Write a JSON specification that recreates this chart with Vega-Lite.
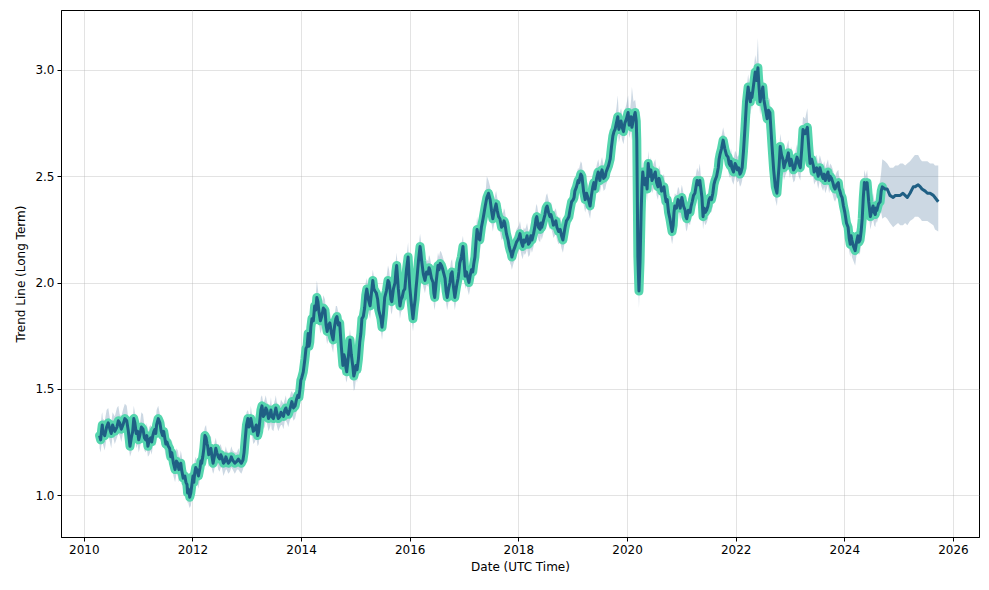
{
  "$schema": "https://vega.github.io/schema/vega-lite/v6.json",
  "width": 918,
  "height": 527,
  "autosize": {"type": "none"},
  "padding": {"left": 61, "top": 10, "right": 10, "bottom": 53},
  "background": "white",
  "config": {
    "view": {"stroke": "black", "strokeWidth": 1},
    "axis": {
      "domainColor": "black", "tickColor": "black", "labelColor": "black", "titleColor": "black",
      "labelFont": "DejaVu Sans", "titleFont": "DejaVu Sans", "labelFontSize": 12, "titleFontSize": 12,
      "titleFontWeight": "normal", "tickSize": 4, "labelPadding": 3,
      "gridColor": "#b0b0b0", "gridOpacity": 0.35, "gridWidth": 1
    }
  },
  "data": {"values": [
    {"t":2010.29,"y":1.28,"hi":1.33,"lo":1.22},
    {"t":2010.31,"y":1.26,"hi":1.33,"lo":1.20},
    {"t":2010.33,"y":1.31,"hi":1.38,"lo":1.25},
    {"t":2010.34,"y":1.33,"hi":1.39,"lo":1.27},
    {"t":2010.35,"y":1.30,"hi":1.36,"lo":1.24},
    {"t":2010.385,"y":1.28,"hi":1.35,"lo":1.21},
    {"t":2010.42,"y":1.32,"hi":1.40,"lo":1.27},
    {"t":2010.45,"y":1.34,"hi":1.41,"lo":1.28},
    {"t":2010.48,"y":1.31,"hi":1.36,"lo":1.25},
    {"t":2010.505,"y":1.29,"hi":1.34,"lo":1.22},
    {"t":2010.53,"y":1.33,"hi":1.39,"lo":1.28},
    {"t":2010.57,"y":1.30,"hi":1.37,"lo":1.24},
    {"t":2010.61,"y":1.32,"hi":1.41,"lo":1.27},
    {"t":2010.635,"y":1.35,"hi":1.42,"lo":1.29},
    {"t":2010.66,"y":1.34,"hi":1.38,"lo":1.28},
    {"t":2010.69,"y":1.31,"hi":1.37,"lo":1.25},
    {"t":2010.72,"y":1.33,"hi":1.40,"lo":1.29},
    {"t":2010.755,"y":1.36,"hi":1.43,"lo":1.30},
    {"t":2010.79,"y":1.35,"hi":1.42,"lo":1.30},
    {"t":2010.82,"y":1.30,"hi":1.36,"lo":1.24},
    {"t":2010.85,"y":1.23,"hi":1.29,"lo":1.18},
    {"t":2010.875,"y":1.27,"hi":1.33,"lo":1.20},
    {"t":2010.90,"y":1.30,"hi":1.36,"lo":1.25},
    {"t":2010.92,"y":1.36,"hi":1.42,"lo":1.30},
    {"t":2010.94,"y":1.34,"hi":1.39,"lo":1.28},
    {"t":2010.965,"y":1.29,"hi":1.36,"lo":1.22},
    {"t":2010.99,"y":1.30,"hi":1.37,"lo":1.24},
    {"t":2011.01,"y":1.26,"hi":1.32,"lo":1.20},
    {"t":2011.03,"y":1.28,"hi":1.33,"lo":1.22},
    {"t":2011.06,"y":1.32,"hi":1.39,"lo":1.26},
    {"t":2011.09,"y":1.31,"hi":1.38,"lo":1.26},
    {"t":2011.115,"y":1.27,"hi":1.33,"lo":1.21},
    {"t":2011.14,"y":1.26,"hi":1.31,"lo":1.20},
    {"t":2011.16,"y":1.28,"hi":1.34,"lo":1.22},
    {"t":2011.18,"y":1.23,"hi":1.29,"lo":1.18},
    {"t":2011.205,"y":1.26,"hi":1.32,"lo":1.19},
    {"t":2011.23,"y":1.27,"hi":1.33,"lo":1.21},
    {"t":2011.25,"y":1.25,"hi":1.31,"lo":1.19},
    {"t":2011.27,"y":1.28,"hi":1.32,"lo":1.23},
    {"t":2011.29,"y":1.30,"hi":1.37,"lo":1.24},
    {"t":2011.31,"y":1.31,"hi":1.37,"lo":1.26},
    {"t":2011.325,"y":1.29,"hi":1.35,"lo":1.23},
    {"t":2011.34,"y":1.33,"hi":1.40,"lo":1.28},
    {"t":2011.37,"y":1.36,"hi":1.42,"lo":1.30},
    {"t":2011.40,"y":1.34,"hi":1.38,"lo":1.29},
    {"t":2011.425,"y":1.30,"hi":1.36,"lo":1.24},
    {"t":2011.45,"y":1.28,"hi":1.33,"lo":1.23},
    {"t":2011.47,"y":1.30,"hi":1.36,"lo":1.24},
    {"t":2011.49,"y":1.27,"hi":1.33,"lo":1.21},
    {"t":2011.51,"y":1.24,"hi":1.30,"lo":1.18},
    {"t":2011.53,"y":1.25,"hi":1.30,"lo":1.19},
    {"t":2011.555,"y":1.23,"hi":1.29,"lo":1.17},
    {"t":2011.58,"y":1.22,"hi":1.26,"lo":1.16},
    {"t":2011.60,"y":1.18,"hi":1.24,"lo":1.12},
    {"t":2011.62,"y":1.20,"hi":1.26,"lo":1.15},
    {"t":2011.65,"y":1.15,"hi":1.21,"lo":1.09},
    {"t":2011.68,"y":1.12,"hi":1.17,"lo":1.06},
    {"t":2011.705,"y":1.16,"hi":1.22,"lo":1.10},
    {"t":2011.73,"y":1.15,"hi":1.21,"lo":1.09},
    {"t":2011.75,"y":1.12,"hi":1.18,"lo":1.06},
    {"t":2011.77,"y":1.13,"hi":1.18,"lo":1.08},
    {"t":2011.785,"y":1.15,"hi":1.21,"lo":1.09},
    {"t":2011.80,"y":1.12,"hi":1.19,"lo":1.07},
    {"t":2011.83,"y":1.08,"hi":1.14,"lo":1.02},
    {"t":2011.86,"y":1.09,"hi":1.14,"lo":1.03},
    {"t":2011.88,"y":1.06,"hi":1.12,"lo":1.00},
    {"t":2011.90,"y":1.05,"hi":1.10,"lo":1.00},
    {"t":2011.91,"y":1.01,"hi":1.07,"lo":0.96},
    {"t":2011.92,"y":1.03,"hi":1.08,"lo":0.97},
    {"t":2011.935,"y":1.02,"hi":1.08,"lo":0.95},
    {"t":2011.95,"y":0.99,"hi":1.04,"lo":0.94},
    {"t":2011.97,"y":1.01,"hi":1.07,"lo":0.95},
    {"t":2011.99,"y":1.05,"hi":1.10,"lo":0.99},
    {"t":2012.00,"y":1.07,"hi":1.13,"lo":1.01},
    {"t":2012.01,"y":1.09,"hi":1.14,"lo":1.04},
    {"t":2012.025,"y":1.06,"hi":1.12,"lo":1.00},
    {"t":2012.04,"y":1.10,"hi":1.16,"lo":1.05},
    {"t":2012.06,"y":1.13,"hi":1.18,"lo":1.07},
    {"t":2012.08,"y":1.12,"hi":1.16,"lo":1.06},
    {"t":2012.11,"y":1.09,"hi":1.15,"lo":1.03},
    {"t":2012.14,"y":1.13,"hi":1.19,"lo":1.08},
    {"t":2012.155,"y":1.16,"hi":1.22,"lo":1.10},
    {"t":2012.17,"y":1.15,"hi":1.20,"lo":1.10},
    {"t":2012.19,"y":1.18,"hi":1.24,"lo":1.12},
    {"t":2012.21,"y":1.22,"hi":1.28,"lo":1.16},
    {"t":2012.22,"y":1.25,"hi":1.31,"lo":1.19},
    {"t":2012.23,"y":1.28,"hi":1.32,"lo":1.22},
    {"t":2012.25,"y":1.27,"hi":1.33,"lo":1.21},
    {"t":2012.27,"y":1.24,"hi":1.29,"lo":1.18},
    {"t":2012.28,"y":1.23,"hi":1.27,"lo":1.17},
    {"t":2012.30,"y":1.19,"hi":1.25,"lo":1.13},
    {"t":2012.32,"y":1.21,"hi":1.27,"lo":1.16},
    {"t":2012.34,"y":1.22,"hi":1.28,"lo":1.16},
    {"t":2012.36,"y":1.18,"hi":1.22,"lo":1.12},
    {"t":2012.38,"y":1.15,"hi":1.20,"lo":1.10},
    {"t":2012.395,"y":1.17,"hi":1.23,"lo":1.11},
    {"t":2012.41,"y":1.19,"hi":1.25,"lo":1.13},
    {"t":2012.43,"y":1.22,"hi":1.27,"lo":1.16},
    {"t":2012.45,"y":1.20,"hi":1.24,"lo":1.15},
    {"t":2012.475,"y":1.18,"hi":1.24,"lo":1.12},
    {"t":2012.50,"y":1.17,"hi":1.23,"lo":1.11},
    {"t":2012.52,"y":1.19,"hi":1.24,"lo":1.13},
    {"t":2012.54,"y":1.18,"hi":1.22,"lo":1.13},
    {"t":2012.57,"y":1.15,"hi":1.20,"lo":1.09},
    {"t":2012.60,"y":1.16,"hi":1.21,"lo":1.11},
    {"t":2012.615,"y":1.18,"hi":1.23,"lo":1.12},
    {"t":2012.63,"y":1.17,"hi":1.21,"lo":1.12},
    {"t":2012.66,"y":1.15,"hi":1.20,"lo":1.10},
    {"t":2012.69,"y":1.16,"hi":1.20,"lo":1.11},
    {"t":2012.715,"y":1.18,"hi":1.23,"lo":1.13},
    {"t":2012.74,"y":1.165,"hi":1.21,"lo":1.12},
    {"t":2012.78,"y":1.15,"hi":1.20,"lo":1.10},
    {"t":2012.82,"y":1.16,"hi":1.20,"lo":1.12},
    {"t":2012.845,"y":1.17,"hi":1.22,"lo":1.12},
    {"t":2012.87,"y":1.16,"hi":1.20,"lo":1.11},
    {"t":2012.90,"y":1.15,"hi":1.20,"lo":1.10},
    {"t":2012.93,"y":1.165,"hi":1.21,"lo":1.12},
    {"t":2012.95,"y":1.20,"hi":1.26,"lo":1.14},
    {"t":2012.97,"y":1.26,"hi":1.31,"lo":1.20},
    {"t":2012.995,"y":1.33,"hi":1.39,"lo":1.27},
    {"t":2013.02,"y":1.36,"hi":1.40,"lo":1.30},
    {"t":2013.04,"y":1.32,"hi":1.38,"lo":1.26},
    {"t":2013.06,"y":1.33,"hi":1.38,"lo":1.28},
    {"t":2013.075,"y":1.36,"hi":1.42,"lo":1.30},
    {"t":2013.09,"y":1.34,"hi":1.39,"lo":1.29},
    {"t":2013.12,"y":1.30,"hi":1.36,"lo":1.24},
    {"t":2013.15,"y":1.31,"hi":1.36,"lo":1.25},
    {"t":2013.175,"y":1.33,"hi":1.39,"lo":1.27},
    {"t":2013.20,"y":1.28,"hi":1.33,"lo":1.23},
    {"t":2013.22,"y":1.30,"hi":1.36,"lo":1.24},
    {"t":2013.24,"y":1.35,"hi":1.41,"lo":1.29},
    {"t":2013.26,"y":1.40,"hi":1.46,"lo":1.34},
    {"t":2013.28,"y":1.42,"hi":1.47,"lo":1.37},
    {"t":2013.305,"y":1.37,"hi":1.43,"lo":1.31},
    {"t":2013.33,"y":1.38,"hi":1.45,"lo":1.32},
    {"t":2013.35,"y":1.41,"hi":1.47,"lo":1.35},
    {"t":2013.37,"y":1.40,"hi":1.44,"lo":1.34},
    {"t":2013.40,"y":1.36,"hi":1.42,"lo":1.30},
    {"t":2013.43,"y":1.38,"hi":1.43,"lo":1.32},
    {"t":2013.445,"y":1.40,"hi":1.46,"lo":1.34},
    {"t":2013.46,"y":1.37,"hi":1.42,"lo":1.31},
    {"t":2013.49,"y":1.36,"hi":1.42,"lo":1.30},
    {"t":2013.52,"y":1.39,"hi":1.45,"lo":1.34},
    {"t":2013.535,"y":1.41,"hi":1.47,"lo":1.35},
    {"t":2013.55,"y":1.39,"hi":1.44,"lo":1.33},
    {"t":2013.58,"y":1.36,"hi":1.42,"lo":1.30},
    {"t":2013.61,"y":1.37,"hi":1.42,"lo":1.32},
    {"t":2013.63,"y":1.39,"hi":1.45,"lo":1.33},
    {"t":2013.65,"y":1.38,"hi":1.44,"lo":1.33},
    {"t":2013.675,"y":1.37,"hi":1.43,"lo":1.31},
    {"t":2013.70,"y":1.40,"hi":1.45,"lo":1.35},
    {"t":2013.72,"y":1.41,"hi":1.47,"lo":1.35},
    {"t":2013.74,"y":1.39,"hi":1.43,"lo":1.34},
    {"t":2013.765,"y":1.38,"hi":1.44,"lo":1.32},
    {"t":2013.79,"y":1.40,"hi":1.46,"lo":1.35},
    {"t":2013.81,"y":1.42,"hi":1.48,"lo":1.36},
    {"t":2013.83,"y":1.44,"hi":1.49,"lo":1.38},
    {"t":2013.86,"y":1.41,"hi":1.47,"lo":1.35},
    {"t":2013.89,"y":1.42,"hi":1.47,"lo":1.36},
    {"t":2013.915,"y":1.45,"hi":1.51,"lo":1.39},
    {"t":2013.94,"y":1.47,"hi":1.52,"lo":1.41},
    {"t":2013.96,"y":1.46,"hi":1.52,"lo":1.40},
    {"t":2013.98,"y":1.50,"hi":1.55,"lo":1.45},
    {"t":2013.995,"y":1.54,"hi":1.60,"lo":1.48},
    {"t":2014.01,"y":1.55,"hi":1.60,"lo":1.49},
    {"t":2014.04,"y":1.58,"hi":1.64,"lo":1.52},
    {"t":2014.07,"y":1.64,"hi":1.70,"lo":1.58},
    {"t":2014.09,"y":1.69,"hi":1.75,"lo":1.63},
    {"t":2014.11,"y":1.70,"hi":1.76,"lo":1.64},
    {"t":2014.13,"y":1.76,"hi":1.80,"lo":1.70},
    {"t":2014.145,"y":1.70,"hi":1.76,"lo":1.64},
    {"t":2014.16,"y":1.72,"hi":1.78,"lo":1.67},
    {"t":2014.18,"y":1.79,"hi":1.85,"lo":1.73},
    {"t":2014.20,"y":1.83,"hi":1.88,"lo":1.77},
    {"t":2014.225,"y":1.82,"hi":1.88,"lo":1.76},
    {"t":2014.25,"y":1.89,"hi":1.94,"lo":1.83},
    {"t":2014.27,"y":1.87,"hi":1.94,"lo":1.81},
    {"t":2014.29,"y":1.93,"hi":2.01,"lo":1.87},
    {"t":2014.31,"y":1.91,"hi":1.97,"lo":1.85},
    {"t":2014.33,"y":1.86,"hi":1.92,"lo":1.80},
    {"t":2014.355,"y":1.82,"hi":1.88,"lo":1.76},
    {"t":2014.38,"y":1.84,"hi":1.89,"lo":1.78},
    {"t":2014.41,"y":1.88,"hi":1.94,"lo":1.82},
    {"t":2014.44,"y":1.87,"hi":1.92,"lo":1.81},
    {"t":2014.46,"y":1.80,"hi":1.86,"lo":1.74},
    {"t":2014.48,"y":1.77,"hi":1.83,"lo":1.71},
    {"t":2014.505,"y":1.80,"hi":1.86,"lo":1.74},
    {"t":2014.53,"y":1.81,"hi":1.86,"lo":1.75},
    {"t":2014.56,"y":1.76,"hi":1.82,"lo":1.70},
    {"t":2014.59,"y":1.73,"hi":1.79,"lo":1.67},
    {"t":2014.605,"y":1.77,"hi":1.83,"lo":1.71},
    {"t":2014.62,"y":1.80,"hi":1.85,"lo":1.74},
    {"t":2014.64,"y":1.83,"hi":1.89,"lo":1.77},
    {"t":2014.66,"y":1.84,"hi":1.89,"lo":1.79},
    {"t":2014.685,"y":1.80,"hi":1.86,"lo":1.74},
    {"t":2014.71,"y":1.81,"hi":1.86,"lo":1.75},
    {"t":2014.74,"y":1.70,"hi":1.76,"lo":1.64},
    {"t":2014.77,"y":1.61,"hi":1.67,"lo":1.56},
    {"t":2014.79,"y":1.66,"hi":1.72,"lo":1.60},
    {"t":2014.81,"y":1.64,"hi":1.70,"lo":1.58},
    {"t":2014.825,"y":1.60,"hi":1.66,"lo":1.54},
    {"t":2014.84,"y":1.58,"hi":1.64,"lo":1.53},
    {"t":2014.87,"y":1.65,"hi":1.71,"lo":1.59},
    {"t":2014.90,"y":1.73,"hi":1.78,"lo":1.67},
    {"t":2014.925,"y":1.66,"hi":1.72,"lo":1.60},
    {"t":2014.95,"y":1.61,"hi":1.67,"lo":1.55},
    {"t":2014.97,"y":1.56,"hi":1.62,"lo":1.49},
    {"t":2014.99,"y":1.58,"hi":1.63,"lo":1.50},
    {"t":2015.01,"y":1.61,"hi":1.67,"lo":1.55},
    {"t":2015.03,"y":1.59,"hi":1.65,"lo":1.53},
    {"t":2015.055,"y":1.64,"hi":1.70,"lo":1.58},
    {"t":2015.08,"y":1.72,"hi":1.78,"lo":1.66},
    {"t":2015.10,"y":1.76,"hi":1.82,"lo":1.70},
    {"t":2015.12,"y":1.83,"hi":1.88,"lo":1.77},
    {"t":2015.145,"y":1.84,"hi":1.90,"lo":1.78},
    {"t":2015.17,"y":1.88,"hi":1.95,"lo":1.82},
    {"t":2015.19,"y":1.94,"hi":2.00,"lo":1.88},
    {"t":2015.21,"y":1.97,"hi":2.02,"lo":1.91},
    {"t":2015.24,"y":1.92,"hi":1.98,"lo":1.86},
    {"t":2015.27,"y":1.89,"hi":1.95,"lo":1.83},
    {"t":2015.295,"y":1.95,"hi":2.01,"lo":1.89},
    {"t":2015.32,"y":2.01,"hi":2.06,"lo":1.95},
    {"t":2015.34,"y":1.97,"hi":2.03,"lo":1.91},
    {"t":2015.36,"y":1.96,"hi":2.02,"lo":1.90},
    {"t":2015.385,"y":1.95,"hi":2.01,"lo":1.89},
    {"t":2015.41,"y":1.92,"hi":1.98,"lo":1.86},
    {"t":2015.43,"y":1.87,"hi":1.93,"lo":1.81},
    {"t":2015.45,"y":1.85,"hi":1.91,"lo":1.79},
    {"t":2015.47,"y":1.83,"hi":1.89,"lo":1.77},
    {"t":2015.49,"y":1.79,"hi":1.85,"lo":1.73},
    {"t":2015.515,"y":1.85,"hi":1.91,"lo":1.79},
    {"t":2015.54,"y":1.93,"hi":1.99,"lo":1.87},
    {"t":2015.57,"y":1.96,"hi":2.02,"lo":1.90},
    {"t":2015.60,"y":2.01,"hi":2.08,"lo":1.95},
    {"t":2015.62,"y":2.00,"hi":2.06,"lo":1.94},
    {"t":2015.64,"y":1.96,"hi":2.01,"lo":1.90},
    {"t":2015.655,"y":1.92,"hi":1.98,"lo":1.86},
    {"t":2015.67,"y":1.91,"hi":1.97,"lo":1.85},
    {"t":2015.70,"y":1.97,"hi":2.03,"lo":1.91},
    {"t":2015.73,"y":2.00,"hi":2.06,"lo":1.94},
    {"t":2015.745,"y":2.05,"hi":2.11,"lo":1.99},
    {"t":2015.76,"y":2.08,"hi":2.14,"lo":2.02},
    {"t":2015.79,"y":1.97,"hi":2.03,"lo":1.91},
    {"t":2015.82,"y":1.89,"hi":1.95,"lo":1.83},
    {"t":2015.84,"y":1.92,"hi":1.98,"lo":1.86},
    {"t":2015.86,"y":1.93,"hi":1.99,"lo":1.87},
    {"t":2015.885,"y":1.96,"hi":2.02,"lo":1.90},
    {"t":2015.91,"y":1.97,"hi":2.03,"lo":1.91},
    {"t":2015.94,"y":2.06,"hi":2.12,"lo":2.00},
    {"t":2015.97,"y":2.12,"hi":2.19,"lo":2.06},
    {"t":2015.985,"y":2.05,"hi":2.11,"lo":1.99},
    {"t":2016.00,"y":1.98,"hi":2.04,"lo":1.92},
    {"t":2016.03,"y":1.90,"hi":1.96,"lo":1.84},
    {"t":2016.06,"y":1.83,"hi":1.89,"lo":1.77},
    {"t":2016.08,"y":1.88,"hi":1.94,"lo":1.82},
    {"t":2016.10,"y":1.92,"hi":1.98,"lo":1.86},
    {"t":2016.115,"y":1.97,"hi":2.03,"lo":1.91},
    {"t":2016.13,"y":2.01,"hi":2.07,"lo":1.95},
    {"t":2016.16,"y":2.10,"hi":2.16,"lo":2.04},
    {"t":2016.19,"y":2.17,"hi":2.23,"lo":2.11},
    {"t":2016.205,"y":2.14,"hi":2.20,"lo":2.08},
    {"t":2016.22,"y":2.10,"hi":2.16,"lo":2.04},
    {"t":2016.25,"y":2.04,"hi":2.10,"lo":1.98},
    {"t":2016.28,"y":2.01,"hi":2.07,"lo":1.95},
    {"t":2016.31,"y":2.05,"hi":2.11,"lo":1.99},
    {"t":2016.34,"y":2.04,"hi":2.10,"lo":1.98},
    {"t":2016.355,"y":2.07,"hi":2.13,"lo":2.01},
    {"t":2016.37,"y":2.06,"hi":2.12,"lo":2.00},
    {"t":2016.40,"y":2.02,"hi":2.08,"lo":1.96},
    {"t":2016.43,"y":2.00,"hi":2.06,"lo":1.94},
    {"t":2016.445,"y":1.95,"hi":2.01,"lo":1.89},
    {"t":2016.46,"y":1.93,"hi":1.99,"lo":1.87},
    {"t":2016.49,"y":2.01,"hi":2.07,"lo":1.95},
    {"t":2016.52,"y":2.08,"hi":2.14,"lo":2.02},
    {"t":2016.54,"y":2.06,"hi":2.12,"lo":2.00},
    {"t":2016.56,"y":2.09,"hi":2.15,"lo":2.03},
    {"t":2016.585,"y":2.08,"hi":2.14,"lo":2.02},
    {"t":2016.61,"y":2.06,"hi":2.12,"lo":2.00},
    {"t":2016.63,"y":2.04,"hi":2.10,"lo":1.98},
    {"t":2016.65,"y":2.02,"hi":2.08,"lo":1.96},
    {"t":2016.67,"y":1.96,"hi":2.02,"lo":1.90},
    {"t":2016.69,"y":1.93,"hi":1.99,"lo":1.87},
    {"t":2016.715,"y":1.97,"hi":2.03,"lo":1.91},
    {"t":2016.74,"y":2.00,"hi":2.06,"lo":1.94},
    {"t":2016.76,"y":2.04,"hi":2.10,"lo":1.98},
    {"t":2016.78,"y":2.05,"hi":2.11,"lo":1.99},
    {"t":2016.805,"y":1.98,"hi":2.04,"lo":1.92},
    {"t":2016.83,"y":1.93,"hi":1.99,"lo":1.87},
    {"t":2016.86,"y":1.98,"hi":2.04,"lo":1.92},
    {"t":2016.89,"y":2.02,"hi":2.08,"lo":1.96},
    {"t":2016.905,"y":2.05,"hi":2.11,"lo":1.99},
    {"t":2016.92,"y":2.09,"hi":2.15,"lo":2.03},
    {"t":2016.95,"y":2.12,"hi":2.18,"lo":2.06},
    {"t":2016.98,"y":2.17,"hi":2.22,"lo":2.11},
    {"t":2017.00,"y":2.10,"hi":2.16,"lo":2.04},
    {"t":2017.02,"y":2.03,"hi":2.09,"lo":1.97},
    {"t":2017.045,"y":2.05,"hi":2.11,"lo":1.99},
    {"t":2017.07,"y":2.02,"hi":2.08,"lo":1.96},
    {"t":2017.09,"y":2.00,"hi":2.06,"lo":1.94},
    {"t":2017.11,"y":2.03,"hi":2.09,"lo":1.97},
    {"t":2017.135,"y":2.06,"hi":2.12,"lo":2.00},
    {"t":2017.16,"y":2.05,"hi":2.12,"lo":1.99},
    {"t":2017.18,"y":2.09,"hi":2.15,"lo":2.03},
    {"t":2017.20,"y":2.12,"hi":2.18,"lo":2.06},
    {"t":2017.22,"y":2.19,"hi":2.25,"lo":2.13},
    {"t":2017.24,"y":2.25,"hi":2.31,"lo":2.19},
    {"t":2017.265,"y":2.21,"hi":2.27,"lo":2.15},
    {"t":2017.29,"y":2.20,"hi":2.26,"lo":2.14},
    {"t":2017.32,"y":2.26,"hi":2.32,"lo":2.20},
    {"t":2017.35,"y":2.30,"hi":2.36,"lo":2.24},
    {"t":2017.37,"y":2.33,"hi":2.39,"lo":2.27},
    {"t":2017.39,"y":2.36,"hi":2.42,"lo":2.30},
    {"t":2017.405,"y":2.38,"hi":2.45,"lo":2.32},
    {"t":2017.42,"y":2.40,"hi":2.50,"lo":2.34},
    {"t":2017.45,"y":2.42,"hi":2.48,"lo":2.36},
    {"t":2017.48,"y":2.39,"hi":2.45,"lo":2.33},
    {"t":2017.505,"y":2.34,"hi":2.40,"lo":2.28},
    {"t":2017.53,"y":2.30,"hi":2.36,"lo":2.24},
    {"t":2017.55,"y":2.33,"hi":2.39,"lo":2.27},
    {"t":2017.57,"y":2.35,"hi":2.41,"lo":2.29},
    {"t":2017.59,"y":2.37,"hi":2.43,"lo":2.31},
    {"t":2017.61,"y":2.34,"hi":2.40,"lo":2.28},
    {"t":2017.635,"y":2.31,"hi":2.37,"lo":2.25},
    {"t":2017.66,"y":2.30,"hi":2.36,"lo":2.24},
    {"t":2017.69,"y":2.26,"hi":2.32,"lo":2.20},
    {"t":2017.72,"y":2.27,"hi":2.33,"lo":2.21},
    {"t":2017.735,"y":2.29,"hi":2.35,"lo":2.23},
    {"t":2017.75,"y":2.28,"hi":2.34,"lo":2.22},
    {"t":2017.78,"y":2.23,"hi":2.29,"lo":2.17},
    {"t":2017.81,"y":2.20,"hi":2.26,"lo":2.14},
    {"t":2017.83,"y":2.17,"hi":2.23,"lo":2.11},
    {"t":2017.85,"y":2.15,"hi":2.21,"lo":2.09},
    {"t":2017.865,"y":2.14,"hi":2.20,"lo":2.08},
    {"t":2017.88,"y":2.12,"hi":2.18,"lo":2.06},
    {"t":2017.91,"y":2.15,"hi":2.21,"lo":2.09},
    {"t":2017.94,"y":2.17,"hi":2.23,"lo":2.11},
    {"t":2017.965,"y":2.19,"hi":2.25,"lo":2.13},
    {"t":2017.99,"y":2.20,"hi":2.26,"lo":2.14},
    {"t":2018.01,"y":2.21,"hi":2.27,"lo":2.15},
    {"t":2018.03,"y":2.23,"hi":2.29,"lo":2.17},
    {"t":2018.055,"y":2.19,"hi":2.25,"lo":2.13},
    {"t":2018.08,"y":2.17,"hi":2.23,"lo":2.11},
    {"t":2018.10,"y":2.20,"hi":2.26,"lo":2.14},
    {"t":2018.12,"y":2.19,"hi":2.25,"lo":2.13},
    {"t":2018.14,"y":2.20,"hi":2.26,"lo":2.14},
    {"t":2018.16,"y":2.22,"hi":2.28,"lo":2.16},
    {"t":2018.185,"y":2.18,"hi":2.24,"lo":2.12},
    {"t":2018.21,"y":2.19,"hi":2.25,"lo":2.13},
    {"t":2018.23,"y":2.22,"hi":2.28,"lo":2.16},
    {"t":2018.25,"y":2.20,"hi":2.26,"lo":2.14},
    {"t":2018.28,"y":2.23,"hi":2.29,"lo":2.17},
    {"t":2018.31,"y":2.27,"hi":2.33,"lo":2.21},
    {"t":2018.325,"y":2.30,"hi":2.36,"lo":2.24},
    {"t":2018.34,"y":2.31,"hi":2.37,"lo":2.25},
    {"t":2018.37,"y":2.26,"hi":2.32,"lo":2.20},
    {"t":2018.40,"y":2.25,"hi":2.31,"lo":2.19},
    {"t":2018.415,"y":2.28,"hi":2.34,"lo":2.22},
    {"t":2018.43,"y":2.26,"hi":2.32,"lo":2.20},
    {"t":2018.46,"y":2.29,"hi":2.35,"lo":2.23},
    {"t":2018.49,"y":2.32,"hi":2.38,"lo":2.26},
    {"t":2018.51,"y":2.35,"hi":2.41,"lo":2.29},
    {"t":2018.53,"y":2.36,"hi":2.42,"lo":2.30},
    {"t":2018.555,"y":2.33,"hi":2.39,"lo":2.27},
    {"t":2018.58,"y":2.31,"hi":2.37,"lo":2.25},
    {"t":2018.60,"y":2.32,"hi":2.38,"lo":2.26},
    {"t":2018.62,"y":2.30,"hi":2.36,"lo":2.24},
    {"t":2018.645,"y":2.27,"hi":2.33,"lo":2.21},
    {"t":2018.67,"y":2.28,"hi":2.34,"lo":2.22},
    {"t":2018.69,"y":2.29,"hi":2.35,"lo":2.23},
    {"t":2018.71,"y":2.26,"hi":2.32,"lo":2.20},
    {"t":2018.74,"y":2.24,"hi":2.30,"lo":2.18},
    {"t":2018.77,"y":2.25,"hi":2.31,"lo":2.19},
    {"t":2018.795,"y":2.22,"hi":2.28,"lo":2.16},
    {"t":2018.82,"y":2.20,"hi":2.26,"lo":2.14},
    {"t":2018.84,"y":2.23,"hi":2.29,"lo":2.17},
    {"t":2018.86,"y":2.26,"hi":2.32,"lo":2.20},
    {"t":2018.885,"y":2.29,"hi":2.35,"lo":2.23},
    {"t":2018.91,"y":2.30,"hi":2.36,"lo":2.24},
    {"t":2018.93,"y":2.31,"hi":2.37,"lo":2.25},
    {"t":2018.95,"y":2.34,"hi":2.40,"lo":2.28},
    {"t":2018.98,"y":2.38,"hi":2.44,"lo":2.32},
    {"t":2019.01,"y":2.39,"hi":2.45,"lo":2.33},
    {"t":2019.025,"y":2.40,"hi":2.46,"lo":2.34},
    {"t":2019.04,"y":2.43,"hi":2.49,"lo":2.37},
    {"t":2019.07,"y":2.45,"hi":2.51,"lo":2.39},
    {"t":2019.10,"y":2.48,"hi":2.54,"lo":2.42},
    {"t":2019.115,"y":2.47,"hi":2.53,"lo":2.41},
    {"t":2019.13,"y":2.49,"hi":2.55,"lo":2.43},
    {"t":2019.15,"y":2.51,"hi":2.57,"lo":2.45},
    {"t":2019.17,"y":2.50,"hi":2.56,"lo":2.44},
    {"t":2019.20,"y":2.43,"hi":2.49,"lo":2.37},
    {"t":2019.23,"y":2.39,"hi":2.45,"lo":2.33},
    {"t":2019.255,"y":2.42,"hi":2.48,"lo":2.36},
    {"t":2019.28,"y":2.40,"hi":2.46,"lo":2.34},
    {"t":2019.30,"y":2.38,"hi":2.44,"lo":2.32},
    {"t":2019.32,"y":2.36,"hi":2.42,"lo":2.30},
    {"t":2019.345,"y":2.41,"hi":2.47,"lo":2.35},
    {"t":2019.37,"y":2.45,"hi":2.51,"lo":2.39},
    {"t":2019.39,"y":2.47,"hi":2.53,"lo":2.41},
    {"t":2019.41,"y":2.44,"hi":2.50,"lo":2.38},
    {"t":2019.44,"y":2.49,"hi":2.55,"lo":2.43},
    {"t":2019.47,"y":2.52,"hi":2.58,"lo":2.46},
    {"t":2019.485,"y":2.50,"hi":2.56,"lo":2.44},
    {"t":2019.50,"y":2.48,"hi":2.54,"lo":2.42},
    {"t":2019.52,"y":2.51,"hi":2.57,"lo":2.45},
    {"t":2019.54,"y":2.53,"hi":2.59,"lo":2.47},
    {"t":2019.57,"y":2.49,"hi":2.55,"lo":2.43},
    {"t":2019.60,"y":2.50,"hi":2.56,"lo":2.44},
    {"t":2019.615,"y":2.52,"hi":2.58,"lo":2.46},
    {"t":2019.63,"y":2.53,"hi":2.59,"lo":2.47},
    {"t":2019.66,"y":2.55,"hi":2.61,"lo":2.49},
    {"t":2019.69,"y":2.58,"hi":2.64,"lo":2.52},
    {"t":2019.715,"y":2.64,"hi":2.70,"lo":2.58},
    {"t":2019.74,"y":2.69,"hi":2.75,"lo":2.63},
    {"t":2019.76,"y":2.71,"hi":2.77,"lo":2.65},
    {"t":2019.78,"y":2.72,"hi":2.78,"lo":2.66},
    {"t":2019.805,"y":2.75,"hi":2.82,"lo":2.69},
    {"t":2019.83,"y":2.78,"hi":2.88,"lo":2.72},
    {"t":2019.85,"y":2.72,"hi":2.78,"lo":2.66},
    {"t":2019.87,"y":2.74,"hi":2.80,"lo":2.68},
    {"t":2019.89,"y":2.76,"hi":2.82,"lo":2.70},
    {"t":2019.91,"y":2.73,"hi":2.79,"lo":2.67},
    {"t":2019.935,"y":2.71,"hi":2.77,"lo":2.65},
    {"t":2019.96,"y":2.75,"hi":2.81,"lo":2.69},
    {"t":2019.99,"y":2.77,"hi":2.84,"lo":2.71},
    {"t":2020.02,"y":2.80,"hi":2.88,"lo":2.74},
    {"t":2020.04,"y":2.74,"hi":2.80,"lo":2.68},
    {"t":2020.06,"y":2.76,"hi":2.82,"lo":2.70},
    {"t":2020.075,"y":2.78,"hi":2.86,"lo":2.72},
    {"t":2020.09,"y":2.73,"hi":2.92,"lo":2.67},
    {"t":2020.12,"y":2.77,"hi":2.85,"lo":2.71},
    {"t":2020.15,"y":2.80,"hi":2.86,"lo":2.74},
    {"t":2020.17,"y":2.76,"hi":2.82,"lo":2.70},
    {"t":2020.18,"y":2.67,"hi":2.73,"lo":2.61},
    {"t":2020.20,"y":2.12,"hi":2.20,"lo":2.06},
    {"t":2020.22,"y":1.96,"hi":2.02,"lo":1.88},
    {"t":2020.24,"y":2.10,"hi":2.16,"lo":2.04},
    {"t":2020.26,"y":2.33,"hi":2.39,"lo":2.27},
    {"t":2020.275,"y":2.45,"hi":2.51,"lo":2.39},
    {"t":2020.29,"y":2.52,"hi":2.58,"lo":2.46},
    {"t":2020.31,"y":2.47,"hi":2.53,"lo":2.41},
    {"t":2020.33,"y":2.46,"hi":2.52,"lo":2.40},
    {"t":2020.35,"y":2.49,"hi":2.55,"lo":2.43},
    {"t":2020.37,"y":2.44,"hi":2.50,"lo":2.38},
    {"t":2020.39,"y":2.56,"hi":2.62,"lo":2.50},
    {"t":2020.405,"y":2.52,"hi":2.58,"lo":2.46},
    {"t":2020.42,"y":2.50,"hi":2.56,"lo":2.44},
    {"t":2020.44,"y":2.53,"hi":2.59,"lo":2.47},
    {"t":2020.46,"y":2.48,"hi":2.54,"lo":2.42},
    {"t":2020.49,"y":2.50,"hi":2.56,"lo":2.44},
    {"t":2020.52,"y":2.52,"hi":2.58,"lo":2.46},
    {"t":2020.545,"y":2.47,"hi":2.53,"lo":2.41},
    {"t":2020.57,"y":2.45,"hi":2.51,"lo":2.39},
    {"t":2020.59,"y":2.49,"hi":2.55,"lo":2.43},
    {"t":2020.61,"y":2.47,"hi":2.53,"lo":2.41},
    {"t":2020.635,"y":2.43,"hi":2.49,"lo":2.37},
    {"t":2020.66,"y":2.44,"hi":2.50,"lo":2.38},
    {"t":2020.68,"y":2.45,"hi":2.51,"lo":2.39},
    {"t":2020.70,"y":2.41,"hi":2.47,"lo":2.35},
    {"t":2020.72,"y":2.38,"hi":2.44,"lo":2.32},
    {"t":2020.74,"y":2.39,"hi":2.45,"lo":2.33},
    {"t":2020.765,"y":2.33,"hi":2.39,"lo":2.27},
    {"t":2020.79,"y":2.30,"hi":2.36,"lo":2.24},
    {"t":2020.81,"y":2.27,"hi":2.33,"lo":2.21},
    {"t":2020.83,"y":2.24,"hi":2.30,"lo":2.18},
    {"t":2020.85,"y":2.27,"hi":2.33,"lo":2.21},
    {"t":2020.865,"y":2.33,"hi":2.39,"lo":2.27},
    {"t":2020.88,"y":2.36,"hi":2.42,"lo":2.30},
    {"t":2020.91,"y":2.35,"hi":2.41,"lo":2.29},
    {"t":2020.94,"y":2.39,"hi":2.45,"lo":2.33},
    {"t":2020.96,"y":2.38,"hi":2.44,"lo":2.32},
    {"t":2020.98,"y":2.35,"hi":2.41,"lo":2.29},
    {"t":2020.995,"y":2.38,"hi":2.44,"lo":2.32},
    {"t":2021.01,"y":2.40,"hi":2.46,"lo":2.34},
    {"t":2021.04,"y":2.36,"hi":2.42,"lo":2.30},
    {"t":2021.07,"y":2.34,"hi":2.40,"lo":2.28},
    {"t":2021.085,"y":2.31,"hi":2.37,"lo":2.25},
    {"t":2021.10,"y":2.30,"hi":2.36,"lo":2.24},
    {"t":2021.13,"y":2.34,"hi":2.40,"lo":2.28},
    {"t":2021.16,"y":2.33,"hi":2.39,"lo":2.27},
    {"t":2021.18,"y":2.36,"hi":2.42,"lo":2.30},
    {"t":2021.20,"y":2.38,"hi":2.44,"lo":2.32},
    {"t":2021.225,"y":2.41,"hi":2.47,"lo":2.35},
    {"t":2021.25,"y":2.42,"hi":2.48,"lo":2.36},
    {"t":2021.27,"y":2.45,"hi":2.51,"lo":2.39},
    {"t":2021.29,"y":2.48,"hi":2.54,"lo":2.42},
    {"t":2021.315,"y":2.46,"hi":2.52,"lo":2.40},
    {"t":2021.34,"y":2.48,"hi":2.56,"lo":2.42},
    {"t":2021.36,"y":2.44,"hi":2.50,"lo":2.38},
    {"t":2021.38,"y":2.40,"hi":2.46,"lo":2.34},
    {"t":2021.40,"y":2.31,"hi":2.37,"lo":2.25},
    {"t":2021.42,"y":2.35,"hi":2.41,"lo":2.29},
    {"t":2021.44,"y":2.33,"hi":2.39,"lo":2.27},
    {"t":2021.465,"y":2.34,"hi":2.40,"lo":2.28},
    {"t":2021.49,"y":2.36,"hi":2.42,"lo":2.30},
    {"t":2021.51,"y":2.39,"hi":2.45,"lo":2.33},
    {"t":2021.53,"y":2.40,"hi":2.46,"lo":2.34},
    {"t":2021.555,"y":2.39,"hi":2.45,"lo":2.33},
    {"t":2021.58,"y":2.42,"hi":2.48,"lo":2.36},
    {"t":2021.60,"y":2.46,"hi":2.52,"lo":2.40},
    {"t":2021.62,"y":2.48,"hi":2.54,"lo":2.42},
    {"t":2021.65,"y":2.50,"hi":2.56,"lo":2.44},
    {"t":2021.68,"y":2.54,"hi":2.60,"lo":2.48},
    {"t":2021.695,"y":2.58,"hi":2.64,"lo":2.52},
    {"t":2021.71,"y":2.60,"hi":2.66,"lo":2.54},
    {"t":2021.74,"y":2.63,"hi":2.69,"lo":2.57},
    {"t":2021.77,"y":2.67,"hi":2.73,"lo":2.61},
    {"t":2021.785,"y":2.65,"hi":2.71,"lo":2.59},
    {"t":2021.80,"y":2.63,"hi":2.69,"lo":2.57},
    {"t":2021.83,"y":2.60,"hi":2.66,"lo":2.54},
    {"t":2021.86,"y":2.59,"hi":2.65,"lo":2.53},
    {"t":2021.88,"y":2.56,"hi":2.62,"lo":2.50},
    {"t":2021.90,"y":2.55,"hi":2.61,"lo":2.49},
    {"t":2021.915,"y":2.57,"hi":2.63,"lo":2.51},
    {"t":2021.93,"y":2.54,"hi":2.60,"lo":2.48},
    {"t":2021.96,"y":2.52,"hi":2.58,"lo":2.46},
    {"t":2021.99,"y":2.56,"hi":2.62,"lo":2.50},
    {"t":2022.01,"y":2.55,"hi":2.61,"lo":2.49},
    {"t":2022.03,"y":2.53,"hi":2.59,"lo":2.47},
    {"t":2022.055,"y":2.54,"hi":2.60,"lo":2.48},
    {"t":2022.08,"y":2.51,"hi":2.57,"lo":2.45},
    {"t":2022.10,"y":2.52,"hi":2.58,"lo":2.46},
    {"t":2022.12,"y":2.54,"hi":2.60,"lo":2.48},
    {"t":2022.145,"y":2.62,"hi":2.68,"lo":2.56},
    {"t":2022.17,"y":2.72,"hi":2.78,"lo":2.66},
    {"t":2022.20,"y":2.85,"hi":2.91,"lo":2.79},
    {"t":2022.23,"y":2.92,"hi":2.98,"lo":2.86},
    {"t":2022.25,"y":2.88,"hi":2.94,"lo":2.82},
    {"t":2022.27,"y":2.85,"hi":2.91,"lo":2.79},
    {"t":2022.285,"y":2.89,"hi":2.95,"lo":2.83},
    {"t":2022.30,"y":2.87,"hi":2.93,"lo":2.81},
    {"t":2022.33,"y":2.93,"hi":3.00,"lo":2.87},
    {"t":2022.36,"y":2.99,"hi":3.07,"lo":2.93},
    {"t":2022.385,"y":2.95,"hi":3.03,"lo":2.89},
    {"t":2022.41,"y":3.01,"hi":3.15,"lo":2.95},
    {"t":2022.43,"y":2.92,"hi":2.99,"lo":2.86},
    {"t":2022.45,"y":2.85,"hi":2.91,"lo":2.79},
    {"t":2022.475,"y":2.89,"hi":2.95,"lo":2.83},
    {"t":2022.50,"y":2.92,"hi":2.98,"lo":2.86},
    {"t":2022.52,"y":2.86,"hi":2.92,"lo":2.80},
    {"t":2022.54,"y":2.83,"hi":2.89,"lo":2.77},
    {"t":2022.56,"y":2.80,"hi":2.86,"lo":2.74},
    {"t":2022.58,"y":2.77,"hi":2.83,"lo":2.71},
    {"t":2022.605,"y":2.81,"hi":2.87,"lo":2.75},
    {"t":2022.63,"y":2.80,"hi":2.86,"lo":2.74},
    {"t":2022.65,"y":2.72,"hi":2.78,"lo":2.66},
    {"t":2022.67,"y":2.64,"hi":2.70,"lo":2.58},
    {"t":2022.70,"y":2.53,"hi":2.59,"lo":2.47},
    {"t":2022.73,"y":2.45,"hi":2.51,"lo":2.39},
    {"t":2022.76,"y":2.42,"hi":2.48,"lo":2.36},
    {"t":2022.80,"y":2.55,"hi":2.61,"lo":2.49},
    {"t":2022.82,"y":2.64,"hi":2.70,"lo":2.58},
    {"t":2022.845,"y":2.60,"hi":2.66,"lo":2.54},
    {"t":2022.87,"y":2.58,"hi":2.64,"lo":2.52},
    {"t":2022.89,"y":2.54,"hi":2.60,"lo":2.48},
    {"t":2022.91,"y":2.56,"hi":2.62,"lo":2.50},
    {"t":2022.94,"y":2.58,"hi":2.64,"lo":2.52},
    {"t":2022.97,"y":2.61,"hi":2.67,"lo":2.55},
    {"t":2022.985,"y":2.57,"hi":2.63,"lo":2.51},
    {"t":2023.00,"y":2.55,"hi":2.61,"lo":2.49},
    {"t":2023.02,"y":2.58,"hi":2.64,"lo":2.52},
    {"t":2023.04,"y":2.56,"hi":2.62,"lo":2.50},
    {"t":2023.065,"y":2.53,"hi":2.59,"lo":2.47},
    {"t":2023.09,"y":2.54,"hi":2.60,"lo":2.48},
    {"t":2023.11,"y":2.57,"hi":2.63,"lo":2.51},
    {"t":2023.13,"y":2.59,"hi":2.65,"lo":2.53},
    {"t":2023.16,"y":2.56,"hi":2.62,"lo":2.50},
    {"t":2023.19,"y":2.54,"hi":2.60,"lo":2.48},
    {"t":2023.215,"y":2.62,"hi":2.68,"lo":2.56},
    {"t":2023.24,"y":2.72,"hi":2.78,"lo":2.66},
    {"t":2023.28,"y":2.70,"hi":2.77,"lo":2.64},
    {"t":2023.32,"y":2.73,"hi":2.82,"lo":2.67},
    {"t":2023.345,"y":2.64,"hi":2.70,"lo":2.58},
    {"t":2023.37,"y":2.56,"hi":2.62,"lo":2.50},
    {"t":2023.40,"y":2.58,"hi":2.64,"lo":2.52},
    {"t":2023.43,"y":2.55,"hi":2.61,"lo":2.49},
    {"t":2023.445,"y":2.52,"hi":2.58,"lo":2.46},
    {"t":2023.46,"y":2.53,"hi":2.59,"lo":2.47},
    {"t":2023.49,"y":2.54,"hi":2.60,"lo":2.48},
    {"t":2023.52,"y":2.50,"hi":2.56,"lo":2.44},
    {"t":2023.535,"y":2.52,"hi":2.58,"lo":2.46},
    {"t":2023.55,"y":2.54,"hi":2.60,"lo":2.48},
    {"t":2023.58,"y":2.51,"hi":2.57,"lo":2.45},
    {"t":2023.61,"y":2.49,"hi":2.55,"lo":2.43},
    {"t":2023.63,"y":2.51,"hi":2.57,"lo":2.45},
    {"t":2023.65,"y":2.48,"hi":2.54,"lo":2.42},
    {"t":2023.675,"y":2.50,"hi":2.56,"lo":2.44},
    {"t":2023.70,"y":2.52,"hi":2.58,"lo":2.46},
    {"t":2023.72,"y":2.48,"hi":2.54,"lo":2.42},
    {"t":2023.74,"y":2.50,"hi":2.56,"lo":2.44},
    {"t":2023.765,"y":2.49,"hi":2.55,"lo":2.43},
    {"t":2023.79,"y":2.47,"hi":2.53,"lo":2.41},
    {"t":2023.81,"y":2.45,"hi":2.51,"lo":2.39},
    {"t":2023.83,"y":2.44,"hi":2.50,"lo":2.38},
    {"t":2023.86,"y":2.46,"hi":2.52,"lo":2.40},
    {"t":2023.89,"y":2.47,"hi":2.53,"lo":2.41},
    {"t":2023.905,"y":2.44,"hi":2.50,"lo":2.38},
    {"t":2023.92,"y":2.43,"hi":2.49,"lo":2.37},
    {"t":2023.94,"y":2.41,"hi":2.47,"lo":2.35},
    {"t":2023.96,"y":2.40,"hi":2.46,"lo":2.34},
    {"t":2023.985,"y":2.36,"hi":2.42,"lo":2.30},
    {"t":2024.01,"y":2.33,"hi":2.39,"lo":2.27},
    {"t":2024.04,"y":2.28,"hi":2.34,"lo":2.22},
    {"t":2024.07,"y":2.26,"hi":2.32,"lo":2.20},
    {"t":2024.09,"y":2.21,"hi":2.27,"lo":2.15},
    {"t":2024.11,"y":2.18,"hi":2.24,"lo":2.12},
    {"t":2024.125,"y":2.22,"hi":2.28,"lo":2.16},
    {"t":2024.14,"y":2.20,"hi":2.26,"lo":2.12},
    {"t":2024.17,"y":2.17,"hi":2.23,"lo":2.10},
    {"t":2024.20,"y":2.15,"hi":2.21,"lo":2.08},
    {"t":2024.225,"y":2.19,"hi":2.25,"lo":2.13},
    {"t":2024.25,"y":2.22,"hi":2.28,"lo":2.16},
    {"t":2024.27,"y":2.19,"hi":2.25,"lo":2.13},
    {"t":2024.29,"y":2.20,"hi":2.26,"lo":2.14},
    {"t":2024.31,"y":2.24,"hi":2.30,"lo":2.18},
    {"t":2024.33,"y":2.30,"hi":2.36,"lo":2.24},
    {"t":2024.35,"y":2.40,"hi":2.46,"lo":2.34},
    {"t":2024.37,"y":2.47,"hi":2.53,"lo":2.41},
    {"t":2024.395,"y":2.44,"hi":2.50,"lo":2.38},
    {"t":2024.42,"y":2.47,"hi":2.53,"lo":2.41},
    {"t":2024.45,"y":2.38,"hi":2.44,"lo":2.32},
    {"t":2024.48,"y":2.31,"hi":2.37,"lo":2.25},
    {"t":2024.505,"y":2.34,"hi":2.40,"lo":2.28},
    {"t":2024.53,"y":2.36,"hi":2.42,"lo":2.30},
    {"t":2024.55,"y":2.33,"hi":2.39,"lo":2.27},
    {"t":2024.57,"y":2.32,"hi":2.38,"lo":2.26},
    {"t":2024.585,"y":2.35,"hi":2.41,"lo":2.29},
    {"t":2024.60,"y":2.34,"hi":2.42,"lo":2.28},
    {"t":2024.63,"y":2.37,"hi":2.45,"lo":2.31},
    {"t":2024.66,"y":2.38,"hi":2.48,"lo":2.32},
    {"t":2024.68,"y":2.43,"hi":2.52,"lo":2.33},
    {"t":2024.70,"y":2.45,"hi":2.58,"lo":2.30},
    {"t":2024.75,"y":2.44,"hi":2.57,"lo":2.31},
    {"t":2024.79,"y":2.44,"hi":2.56,"lo":2.30},
    {"t":2024.84,"y":2.41,"hi":2.54,"lo":2.28},
    {"t":2024.90,"y":2.40,"hi":2.54,"lo":2.26},
    {"t":2024.94,"y":2.41,"hi":2.55,"lo":2.27},
    {"t":2024.99,"y":2.41,"hi":2.55,"lo":2.28},
    {"t":2025.03,"y":2.41,"hi":2.56,"lo":2.27},
    {"t":2025.08,"y":2.42,"hi":2.56,"lo":2.27},
    {"t":2025.12,"y":2.41,"hi":2.55,"lo":2.28},
    {"t":2025.16,"y":2.40,"hi":2.56,"lo":2.27},
    {"t":2025.21,"y":2.42,"hi":2.57,"lo":2.29},
    {"t":2025.27,"y":2.45,"hi":2.59,"lo":2.30},
    {"t":2025.30,"y":2.45,"hi":2.60,"lo":2.31},
    {"t":2025.36,"y":2.46,"hi":2.60,"lo":2.31},
    {"t":2025.40,"y":2.45,"hi":2.58,"lo":2.30},
    {"t":2025.43,"y":2.44,"hi":2.57,"lo":2.29},
    {"t":2025.49,"y":2.43,"hi":2.57,"lo":2.29},
    {"t":2025.53,"y":2.42,"hi":2.57,"lo":2.29},
    {"t":2025.58,"y":2.42,"hi":2.56,"lo":2.28},
    {"t":2025.64,"y":2.41,"hi":2.56,"lo":2.27},
    {"t":2025.67,"y":2.40,"hi":2.55,"lo":2.25},
    {"t":2025.73,"y":2.38,"hi":2.55,"lo":2.24}
  ]},
  "encoding": {
    "x": {
      "field": "t", "type": "quantitative",
      "scale": {"domain": [2009.58, 2026.48], "nice": false, "zero": false},
      "axis": {"values": [2010,2012,2014,2016,2018,2020,2022,2024,2026], "format": "d", "title": "Date (UTC Time)", "titlePadding": 6}
    }
  },
  "layer": [
    {
      "mark": {"type": "area", "color": "#5f87a8", "opacity": 0.32},
      "encoding": {
        "y": {
          "field": "lo", "type": "quantitative",
          "scale": {"domain": [0.803, 3.282], "nice": false, "zero": false},
          "axis": {"values": [1.0,1.5,2.0,2.5,3.0], "format": ".1f", "title": "Trend Line (Long Term)", "titlePadding": 7}
        },
        "y2": {"field": "hi"}
      }
    },
    {
      "transform": [{"filter": "datum.t <= 2024.705"}],
      "mark": {"type": "line", "color": "#55d6ae", "strokeWidth": 9, "strokeJoin": "round", "strokeCap": "round"},
      "encoding": {"y": {"field": "y", "type": "quantitative"}}
    },
    {
      "mark": {"type": "line", "color": "#1f5f84", "strokeWidth": 3, "strokeJoin": "round"},
      "encoding": {"y": {"field": "y", "type": "quantitative"}}
    }
  ]
}
